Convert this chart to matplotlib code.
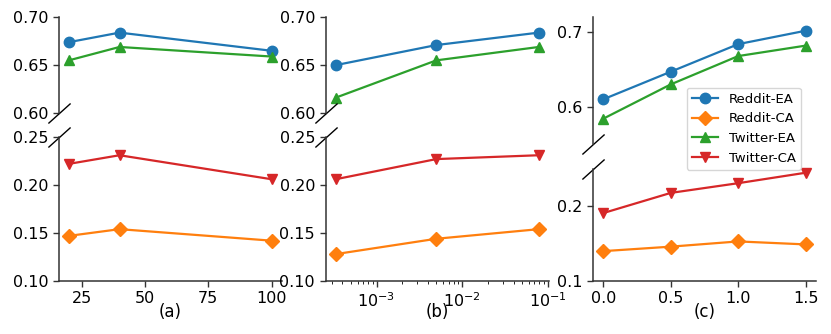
import numpy as np
import matplotlib
matplotlib.use("Agg")
import matplotlib.pyplot as plt

series = ["Reddit-EA", "Reddit-CA", "Twitter-EA", "Twitter-CA"]
colors = ["#1f77b4", "#ff7f0e", "#2ca02c", "#d62728"]
markers = ["o", "D", "^", "v"]

x_a = [20, 40, 100]
a_vals = {
    "Reddit-EA": [0.674, 0.684, 0.665],
    "Reddit-CA": [0.147, 0.154, 0.142],
    "Twitter-EA": [0.655, 0.669, 0.659],
    "Twitter-CA": [0.222, 0.231, 0.206],
}
x_b = [3.33e-4, 5e-3, 7.9e-2]
b_vals = {
    "Reddit-EA": [0.650, 0.671, 0.684],
    "Reddit-CA": [0.128, 0.144, 0.154],
    "Twitter-EA": [0.616, 0.655, 0.669],
    "Twitter-CA": [0.206, 0.227, 0.231],
}
x_c = [0.0, 0.5, 1.0, 1.5]
c_vals = {
    "Reddit-EA": [0.610, 0.647, 0.684, 0.702],
    "Reddit-CA": [0.140, 0.146, 0.153, 0.149],
    "Twitter-EA": [0.584, 0.630, 0.668, 0.682],
    "Twitter-CA": [0.191, 0.218, 0.231, 0.245],
}
panel_labels = ["(a)", "(b)", "(c)"]
ea = ["Reddit-EA", "Twitter-EA"]

W, H = 831, 334
fig = plt.figure(figsize=(W / 100, H / 100), dpi=100)

def fx(px):
    return px / W

def fy(py):
    return 1 - py / H

panels = [
    dict(x=x_a, vals=a_vals, left=58.7, right=281.8, top_split=113, bot_split=137,
         ylim_top=(0.6, 0.7), ylim_bot=(0.1, 0.25),
         yt_top=[0.6, 0.65, 0.7], yt_bot=[0.1, 0.15, 0.2, 0.25], fmt="%.2f", log=False,
         xt=[25, 50, 75, 100]),
    dict(x=x_b, vals=b_vals, left=325.5, right=549, top_split=113, bot_split=137,
         ylim_top=(0.6, 0.7), ylim_bot=(0.1, 0.25),
         yt_top=[0.6, 0.65, 0.7], yt_bot=[0.1, 0.15, 0.2, 0.25], fmt="%.2f", log=True,
         xt=None),
    dict(x=x_c, vals=c_vals, left=593.2, right=815.8, top_split=144, bot_split=169,
         ylim_top=(0.55, 0.72), ylim_bot=(0.1, 0.25),
         yt_top=[0.6, 0.7], yt_bot=[0.1, 0.2], fmt="%.1f", log=False,
         xt=[0.0, 0.5, 1.0, 1.5]),
]

TOP, BOT = 17.3, 281
tick_fs = 11.5
handles = []
for i, p in enumerate(panels):
    l = fx(p["left"]); w = fx(p["right"]) - l
    axt = fig.add_axes([l, fy(p["top_split"]), w, fy(TOP) - fy(p["top_split"])])
    axb = fig.add_axes([l, fy(BOT), w, fy(p["bot_split"]) - fy(BOT)], sharex=axt)
    for s, c, m in zip(series, colors, markers):
        ax = axt if s in ea else axb
        ln, = ax.plot(p["x"], p["vals"][s], color=c, marker=m, markersize=7.5,
                      linewidth=1.6, label=s, clip_on=False)
        if i == 2:
            handles.append(ln)
    if p["log"]:
        axt.set_xscale("log")
    axt.set_ylim(*p["ylim_top"])
    axb.set_ylim(*p["ylim_bot"])
    axt.set_yticks(p["yt_top"])
    axb.set_yticks(p["yt_bot"])
    axt.set_yticklabels([p["fmt"] % v for v in p["yt_top"]])
    axb.set_yticklabels([p["fmt"] % v for v in p["yt_bot"]])
    if p["xt"] is not None:
        axb.set_xticks(p["xt"])
        axb.set_xticklabels(["%g" % v if i == 0 else "%.1f" % v for v in p["xt"]])
    for ax in (axt, axb):
        ax.spines["top"].set_visible(False)
        ax.spines["right"].set_visible(False)
        for sp in ax.spines.values():
            sp.set_color("#333333")
            sp.set_linewidth(1.1)
        ax.tick_params(labelsize=tick_fs, color="#333333", length=4, width=1.0)
    axt.spines["bottom"].set_visible(False)
    axt.tick_params(axis="x", which="both", bottom=False, labelbottom=False)
    fig.text((fx(p["left"]) + fx(p["right"])) / 2, fy(312), panel_labels[i],
             fontsize=12, ha="center", va="center")
    mk = [(-1, -0.9), (1, 0.9)]
    axt.plot([0], [0], transform=axt.transAxes, marker=mk, markersize=16, linestyle="none",
             color="k", mec="k", mew=1, clip_on=False)
    axb.plot([0], [1], transform=axb.transAxes, marker=mk, markersize=16, linestyle="none",
             color="k", mec="k", mew=1, clip_on=False)

fig.legend(handles=handles, labels=series, loc="upper right",
           bbox_to_anchor=(fx(801), fy(87.5)), borderaxespad=0, fontsize=9.5,
           frameon=True, borderpad=0.4, labelspacing=0.5, handlelength=2.0)

fig.savefig("out.png", dpi=100)
